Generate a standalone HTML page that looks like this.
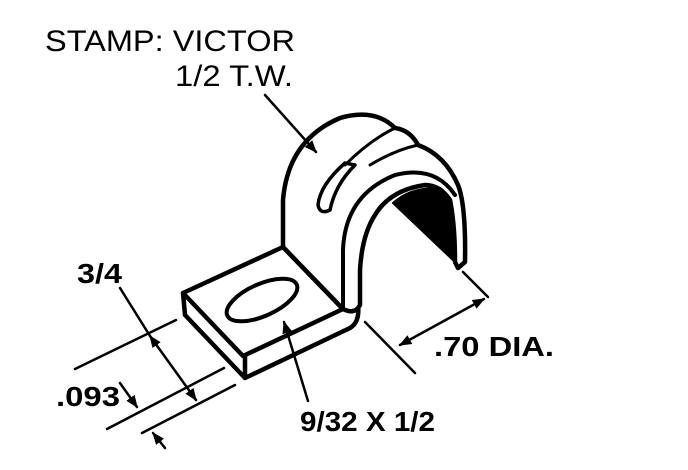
<!DOCTYPE html>
<html><head><style>body{margin:0;background:#fff}svg{display:block}</style></head><body>
<svg width="688" height="470" viewBox="0 0 688 470" xmlns="http://www.w3.org/2000/svg">
<defs><marker id="a" viewBox="0 0 10 10" refX="9" refY="5" markerWidth="5" markerHeight="5" orient="auto-start-reverse"><path d="M0,1 L10,5 L0,9 Z" fill="#000"/></marker></defs>
<g font-family="Liberation Sans, sans-serif" fill="#000">
<text x="45" y="51" font-size="30" textLength="250" lengthAdjust="spacingAndGlyphs">STAMP: VICTOR</text>
<text x="175" y="86" font-size="30" textLength="118" lengthAdjust="spacingAndGlyphs">1/2 T.W.</text>
<text x="77" y="283" font-size="28" font-weight="bold" textLength="45" lengthAdjust="spacingAndGlyphs">3/4</text>
<text x="56" y="406" font-size="28" font-weight="bold" textLength="64" lengthAdjust="spacingAndGlyphs">.093</text>
<text x="434" y="356" font-size="28" font-weight="bold" textLength="120" lengthAdjust="spacingAndGlyphs">.70 DIA.</text>
<text x="300" y="431" font-size="28" font-weight="bold" textLength="135" lengthAdjust="spacingAndGlyphs">9/32 X 1/2</text>
</g>
<g fill="none" stroke="#000" stroke-linejoin="round" stroke-linecap="round">
<path d="M183,293 L283,247 L343,309 L243,356 Z" stroke-width="4.5" fill="#fff"/>
<path d="M183,293 L185,315 L245,378 L245,356 M245,378 L350,328 Q360,322 358,305" stroke-width="4.5"/>
<ellipse cx="262" cy="300" rx="38" ry="16" transform="rotate(-24 262 300)" stroke-width="4"/>
<path d="M283,247 L283,200 Q288,140 340,118 Q375,108 395,128 Q410,130 418,145 Q445,155 458,185 Q466,205 465,262 L458,268 L455,262 Q455,225 450,200 Q440,185 425,185 Q390,190 375,215 Q362,235 360,270 L360,305 Q355,315 343,309 Z" stroke-width="4.5" fill="#fff"/>
<path d="M343,309 L343,250 Q345,195 395,175 Q435,165 455,195" stroke-width="4"/>
<path d="M360,305 L360,270" stroke-width="3"/>
<path d="M395,128 Q370,140 345,165 M418,145 Q395,150 370,165" stroke-width="3"/>
<path d="M345,163 Q320,185 318,205 Q320,215 330,210 Q335,185 355,165 Z" stroke-width="3.5"/>
<path d="M393,203 Q410,187 440,188 Q455,195 456,263 Z" fill="#000" stroke-width="2"/>
<g stroke-width="2.5">
<line x1="265" y1="95" x2="316" y2="152" marker-end="url(#a)"/>
<line x1="365" y1="322" x2="415" y2="373"/>
<line x1="463" y1="272" x2="488" y2="297"/>
<line x1="400" y1="345" x2="484" y2="299" marker-start="url(#a)" marker-end="url(#a)"/>
<line x1="75" y1="369" x2="176" y2="320"/>
<line x1="107" y1="429" x2="224" y2="368"/>
<line x1="142" y1="433" x2="235" y2="385"/>
<line x1="120" y1="288" x2="150" y2="336"/>
<line x1="150" y1="336" x2="196" y2="400" marker-start="url(#a)" marker-end="url(#a)"/>
<line x1="120" y1="383" x2="137" y2="407" marker-end="url(#a)"/>
<line x1="165" y1="448" x2="153" y2="433" marker-end="url(#a)"/>
<line x1="308" y1="401" x2="284" y2="322" marker-end="url(#a)"/>
</g>
</g>
</svg>
</body></html>
